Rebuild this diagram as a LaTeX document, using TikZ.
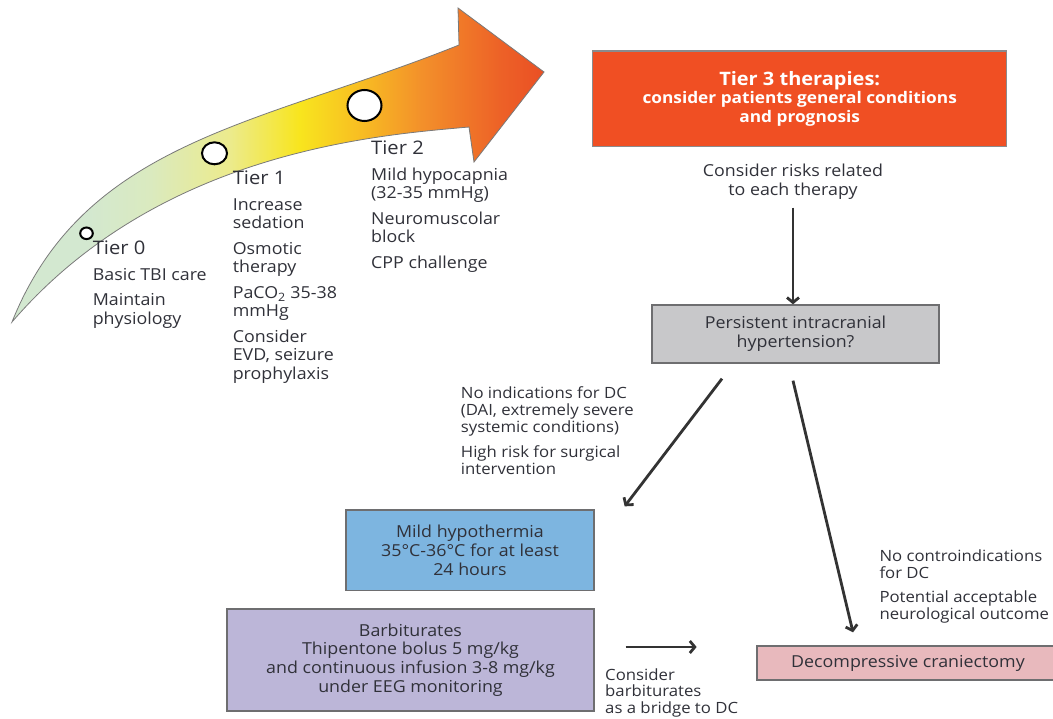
\documentclass[tikz,border=0pt]{standalone}
\usepackage{fontspec}
\setmainfont{Open Sans}[FakeStretch=1.08]
\usetikzlibrary{arrows.meta}
\definecolor{txt}{HTML}{303139}
\definecolor{arrc}{HTML}{333333}
\definecolor{outl}{HTML}{7A7A7A}
\definecolor{boxline}{HTML}{6E6E70}
\definecolor{tierthree}{HTML}{F04F23}
\definecolor{persfill}{HTML}{C8C8CA}
\definecolor{hypofill}{HTML}{7DB5E0}
\definecolor{barbfill}{HTML}{BCB6D8}
\definecolor{decofill}{HTML}{E8B9BD}
\definecolor{g0}{HTML}{D3E8D0}
\definecolor{g1}{HTML}{DAEABF}
\definecolor{g2}{HTML}{ECEB8C}
\definecolor{g3}{HTML}{F8E51E}
\definecolor{g4}{HTML}{F8BF22}
\definecolor{g5}{HTML}{F3902A}
\definecolor{g6}{HTML}{ED6127}
\definecolor{g7}{HTML}{EA4F24}
\pgfdeclarehorizontalshading{tiergrad}{100bp}{color(0bp)=(g0); color(25bp)=(g0); color(32bp)=(g0); color(38bp)=(g1); color(45.5bp)=(g2); color(52bp)=(g3); color(57.5bp)=(g4); color(63.5bp)=(g5); color(71bp)=(g6); color(75bp)=(g7); color(100bp)=(g7)}
\tikzset{
  body/.style={font=\fontsize{16.5}{18.4}\selectfont, text=txt, align=left, inner sep=0pt, anchor=north west},
  side/.style={font=\fontsize{15.5}{17}\selectfont, text=txt, align=left, inner sep=0pt, anchor=north west},
  flowbox/.style={draw=boxline, line width=1.3pt, font=\fontsize{16.5}{18.8}\selectfont, text=txt, align=center, inner sep=0pt},
  arr/.style={draw=arrc, line width=2.8pt, -{Straight Barb[length=5pt,width=12pt]}},
  tiercircle/.style={draw=black, fill=white, line width=2pt},
}
\begin{document}
\begin{tikzpicture}[x=1pt,y=-1pt]
\useasboundingbox (0,0) rectangle (1053,719);
% big curved arrow
\shadedraw[shading=tiergrad, draw=outl, line width=0.8pt]
  (12,322) .. controls (85,140) and (260,125) .. (459,45)
  -- (458,8) -- (544,72) -- (474,162) -- (469,127)
  .. controls (380,135) and (160,150) .. (12,322) -- cycle;
\draw[tiercircle] (86.5,233.3) ellipse [x radius=6.3, y radius=5.8];
\draw[tiercircle] (214.5,153.3) ellipse [x radius=12.5, y radius=11];
\draw[tiercircle] (364.5,105.5) ellipse [x radius=17, y radius=15.5];
% tier texts
\node[body] (t0) at (92.6,238) {\rule{0pt}{16pt}{\fontsize{18.7}{18.4}\selectfont Tier 0}\\[7.6pt]
  Basic TBI care\\[7.2pt] Maintain\\ physiology};
\node[body] (t1) at (232.6,168.3) {\rule{0pt}{16pt}{\fontsize{18.7}{18.4}\selectfont Tier 1}\\[7.6pt]
  Increase\\ sedation\\[7.2pt] Osmotic\\ therapy\\[7.2pt] PaCO\textsubscript{2} 35-38\\ mmHg\\[7.2pt]
  Consider\\ EVD, seizure\\ prophylaxis};
\node[body] (t2) at (371,138.3) {\rule{0pt}{16pt}{\fontsize{18.7}{18.4}\selectfont Tier 2}\\[7.6pt]
  Mild hypocapnia\\ (32-35 mmHg)\\[7.2pt] Neuromuscolar\\ block\\[7.2pt] CPP challenge};
% tier 3
\node[flowbox, fill=tierthree, draw=boxline!80, text=white, minimum width=414pt, minimum height=95.7pt,
      font=\bfseries\fontsize{16}{19}\selectfont] (tier3) at (799.7,98.9)
  {{\fontsize{18.5}{19}\selectfont Tier 3 therapies:}\\[-1.4pt] consider patients general conditions\\ and prognosis};
\node[body, anchor=north, align=center] (risks) at (793,162) {\rule{0pt}{14pt}Consider risks related\\[0.9pt] to each therapy};
\node[flowbox, fill=persfill, minimum width=287pt, minimum height=58pt] (persist) at (795.5,334)
  {Persistent intracranial\\ hypertension?};
\node[side] (noind) at (460.7,384.3) {\rule{0pt}{14pt}No indications for DC\\ (DAI, extremely severe\\ systemic conditions)\\[7.6pt]
  High risk for surgical\\ intervention};
\node[flowbox, fill=hypofill, minimum width=248pt, minimum height=80.7pt] (hypo) at (470,550.35)
  {Mild hypothermia\\ 35°C-36°C for at least\\ 24 hours};
\node[flowbox, fill=barbfill, minimum width=367pt, minimum height=102pt] (barb) at (410.5,660)
  {Barbiturates\\ Thipentone bolus 5 mg/kg\\ and continuous infusion 3-8 mg/kg\\ under EEG monitoring};
\node[side] (nocontra) at (879.3,547.7) {\rule{0pt}{14pt}No controindications\\ for DC\\[6.8pt]
  Potential acceptable\\ neurological outcome};
\node[flowbox, fill=decofill, minimum width=302pt, minimum height=34pt] (decomp) at (908,663)
  {Decompressive craniectomy};
\node[side, font=\fontsize{15.5}{16.6}\selectfont] (bridge) at (605,666) {\rule{0pt}{14pt}Consider\\ barbiturates\\ as a bridge to DC};
% connectors
\draw[arr] ([shift={(0,8)}]risks.south) -- (risks.south |- persist.north);
\draw[arr] ([shift={(-73.5,15)}]persist.south) -- ([shift={(30,-3)}]hypo.north east);
\draw[arr] ([shift={(-2.5,17)}]persist.south) -- ([shift={(-55,-13)}]decomp.north);
\coordinate (hA) at ([shift={(31,-13)}]barb.east);
\coordinate (hB) at ([shift={(102,-13)}]barb.east);
\draw[arr] (hA) -- (hB);
\end{tikzpicture}
\end{document}
